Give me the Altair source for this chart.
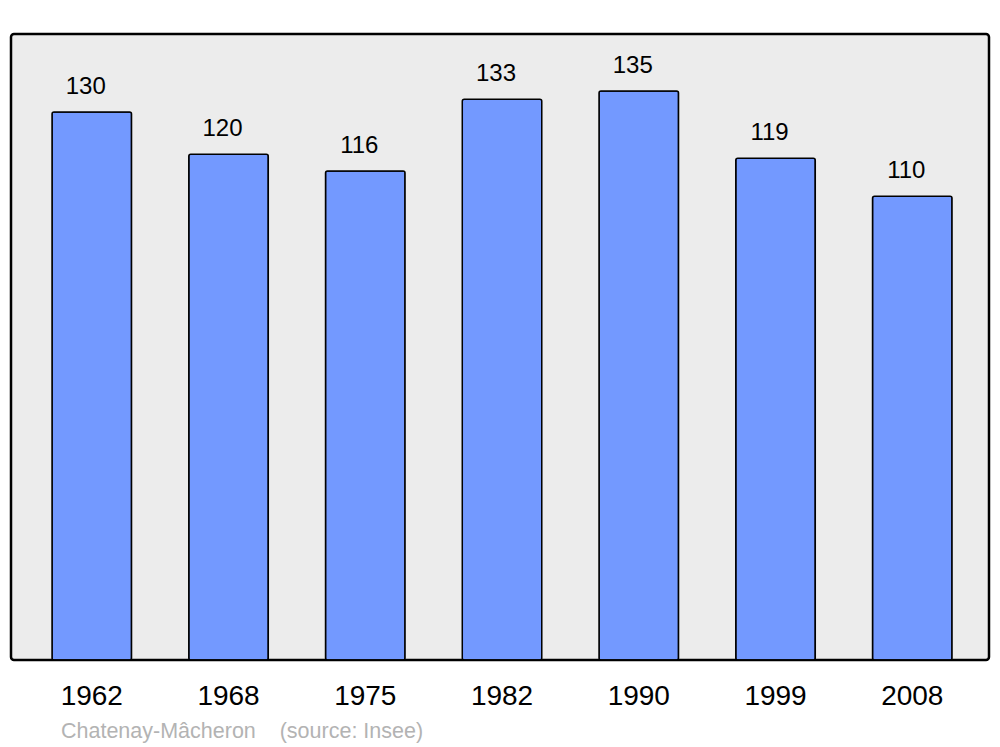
import altair as alt
import pandas as pd

years = ["1962", "1968", "1975", "1982", "1990", "1999", "2008"]
population = [130, 120, 116, 133, 135, 119, 110]

df = pd.DataFrame({"year": years, "pop": population})

x = alt.X("year:N", sort=years,
          scale=alt.Scale(paddingInner=0.4186, paddingOuter=0.2852, align=0.526),
          axis=alt.Axis(title=None, domain=False, ticks=False, labelAngle=0,
                        labelFontSize=28, labelFont="Liberation Sans",
                        labelColor="black", labelPadding=22))
y = alt.Y("pop:Q", scale=alt.Scale(domain=[0, 148.5], nice=False, zero=True),
          axis=None)

bars = alt.Chart(df).mark_bar(
    fill="#7399ff", stroke="black", strokeWidth=1.5, cornerRadius=2
).encode(x=x, y=y)

labels = alt.Chart(df).mark_text(
    baseline="alphabetic", dy=-18, dx=-6, fontSize=24, font="Liberation Sans", color="black"
).encode(x=x, y=y, text="pop:Q")

chart = alt.layer(bars, labels).properties(
    width=978, height=626,
    padding={"left": 3, "top": 26, "right": 3, "bottom": 87},
    autosize=alt.AutoSizeParams(type="none"),
    title=alt.TitleParams(
        "Chatenay-Mâcheron\u00a0\u00a0\u00a0\u00a0(source: Insee)", orient="bottom", anchor="start",
        fontSize=21.5, font="Liberation Sans", fontWeight="normal", color="#b3b3b3",
        dx=50, offset=11
    ),
).configure_view(
    fill="#ececec", stroke="black", strokeWidth=2.5, cornerRadius=3
)

chart.save("out.html", embed_options={"renderer": "svg", "actions": False})
